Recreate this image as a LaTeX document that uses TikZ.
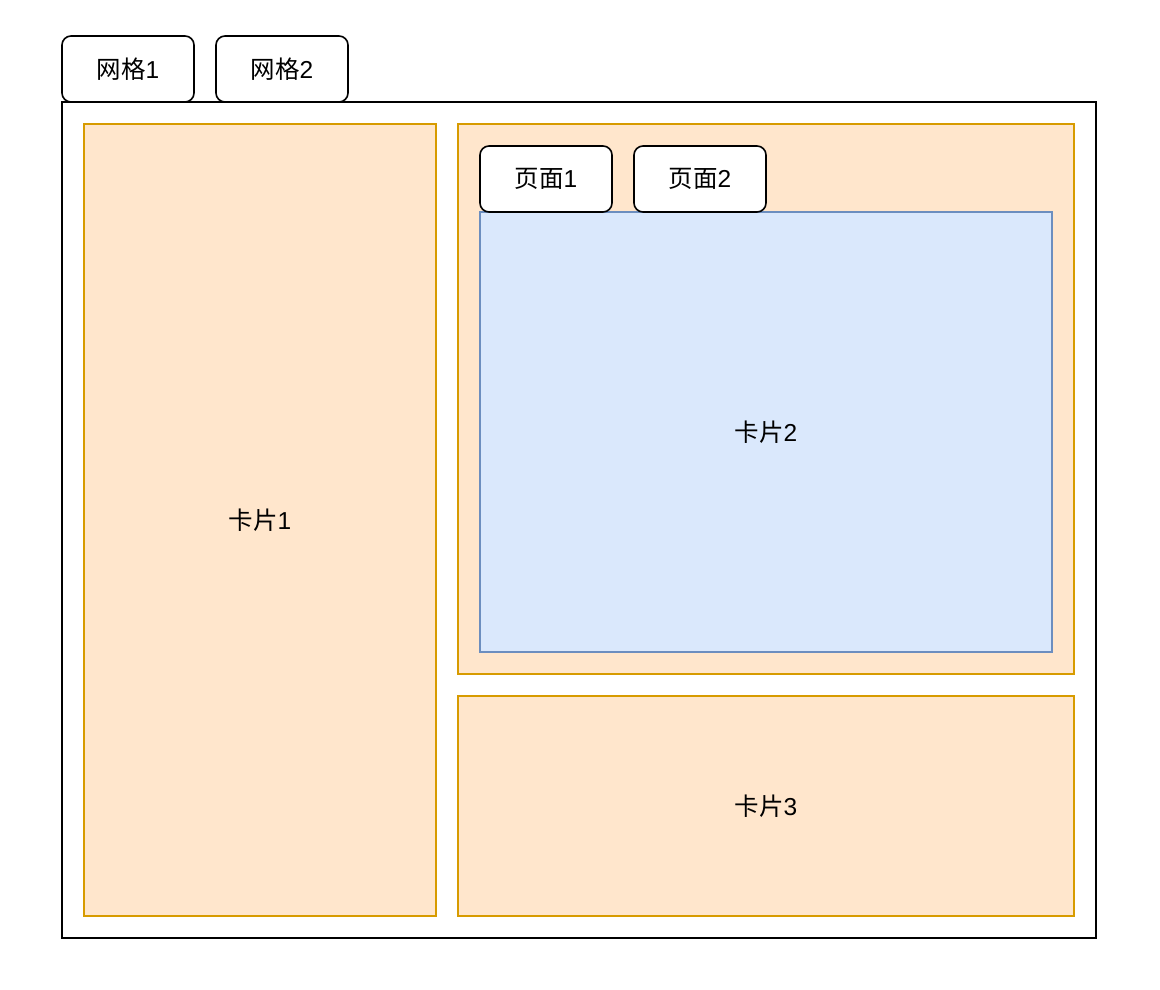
\documentclass[tikz,border=0pt]{standalone}
\usepackage{fontspec}
\setmainfont{Liberation Sans}
\newfontfamily\cjk{Noto Sans CJK SC}
\definecolor{orfill}{HTML}{FFE6CC}
\definecolor{orline}{HTML}{D79B00}
\definecolor{blfill}{HTML}{DAE8FC}
\definecolor{blline}{HTML}{6C8EBF}
\begin{document}
\begin{tikzpicture}[x=1pt,y=-1pt,
  every node/.style={font=\fontsize{24.5}{28}\selectfont},
  tabbox/.style={draw=black,fill=white,line width=1.6pt,rounded corners=9pt},
  frame/.style={draw=black,fill=white,line width=1.6pt},
  card/.style={draw=orline,fill=orfill,line width=1.6pt},
  inner/.style={draw=blline,fill=blfill,line width=1.6pt}]
\useasboundingbox (0,0) rectangle (1160,990);
\path[frame] (62,102) rectangle (1096,938);
\path[tabbox] (62,36) rectangle (194,102);
\node (t1) at (128,69) {{\cjk 网格}1};
\path[tabbox] (216,36) rectangle (348,102);
\node (t2) at (282,69) {{\cjk 网格}2};
\path[card] (84,124) rectangle (436,916);
\node (c1) at (260,520) {{\cjk 卡片}1};
\path[card] (458,124) rectangle (1074,674);
\path[inner] (480,212) rectangle (1052,652);
\node (c2) at (766,432) {{\cjk 卡片}2};
\path[tabbox] (480,146) rectangle (612,212);
\node (p1) at (546,179) {{\cjk 页面}1};
\path[tabbox] (634,146) rectangle (766,212);
\node (p2) at (700,179) {{\cjk 页面}2};
\path[card] (458,696) rectangle (1074,916);
\node (c3) at (766,806) {{\cjk 卡片}3};
\end{tikzpicture}
\end{document}
